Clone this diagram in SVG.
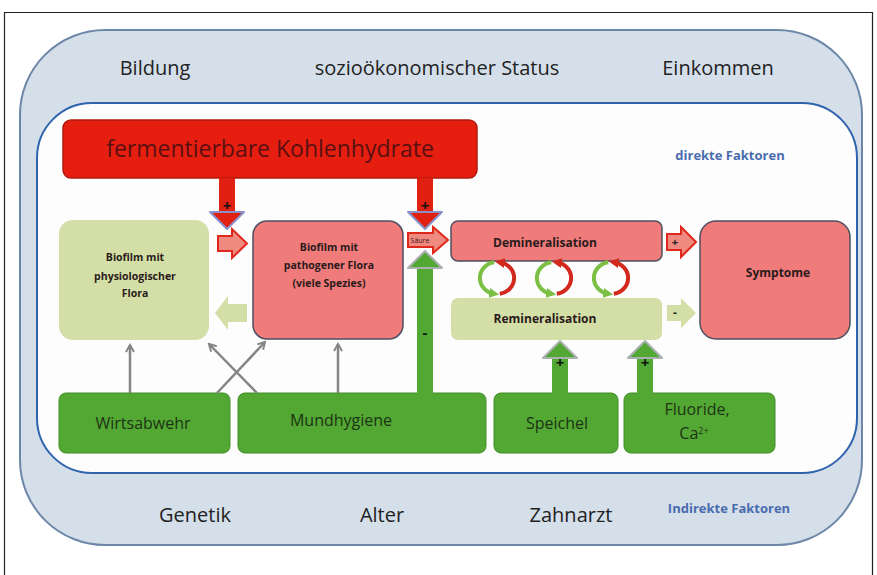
<svg xmlns="http://www.w3.org/2000/svg" width="877" height="575" viewBox="0 0 877 575">
<defs>
<style>
.t{font-family:"Open Sans","Liberation Sans",sans-serif;}
.big{font-size:20px;fill:#222;text-anchor:middle;}
.blue{font-size:13px;fill:#4a6cae;font-weight:bold;text-anchor:middle;}
.sm{font-size:10.5px;font-weight:bold;fill:#2a1a1a;text-anchor:middle;}
.md{font-size:12px;font-weight:bold;fill:#2a1a1a;text-anchor:middle;}
.gt{font-size:16px;fill:#1d3316;text-anchor:middle;}
.sign{font-size:15px;font-weight:bold;fill:#111;text-anchor:middle;}
.pink{fill:#ef7b7b;stroke:#4f4f5f;stroke-width:1.5;}
.lg{fill:#d3dfa6;}
.dg{fill:#52a832;stroke:#3f8c27;stroke-width:1;}
.harrow{fill:#ef8a80;stroke:#e0281a;stroke-width:2;}
.gray{stroke:#858585;stroke-width:2.5;fill:none;marker-end:url(#gh);}
.garc{stroke:#7cbf45;stroke-width:4;fill:none;marker-end:url(#gah);}
.rarc{stroke:#d3281e;stroke-width:4;fill:none;marker-end:url(#rah);}
</style>
<marker id="gh" viewBox="0 0 10 10" refX="8" refY="5" markerWidth="10" markerHeight="10" markerUnits="userSpaceOnUse" orient="auto">
<path d="M1,1 L8,5 L1,9" fill="none" stroke="#858585" stroke-width="2"/>
</marker>
<marker id="gah" viewBox="0 0 10 10" refX="5" refY="5" markerWidth="10" markerHeight="10" markerUnits="userSpaceOnUse" orient="auto">
<path d="M0,0 L10,5 L0,10 Z" fill="#7cbf45"/>
</marker>
<marker id="rah" viewBox="0 0 10 10" refX="5" refY="5" markerWidth="10" markerHeight="10" markerUnits="userSpaceOnUse" orient="auto">
<path d="M0,0 L10,5 L0,10 Z" fill="#d3281e"/>
</marker>
</defs>
<rect width="877" height="575" fill="#ffffff"/>
<path d="M4.5,580 L4.5,12.5 L872.5,12.5 L872.5,580" fill="none" stroke="#222" stroke-width="1.2"/>

<g id="outer">
<rect x="20" y="30" width="842" height="515" rx="85" ry="85" fill="#d4dfea" stroke="#6c87a8" stroke-width="2"/>
<text class="t big" x="155" y="75">Bildung</text>
<text class="t big" x="437" y="75">sozioökonomischer Status</text>
<text class="t big" x="718" y="75">Einkommen</text>
<text class="t big" x="195" y="522">Genetik</text>
<text class="t big" x="382" y="522">Alter</text>
<text class="t big" x="571" y="522">Zahnarzt</text>
<text class="t blue" x="729" y="513" font-size="12.5">Indirekte Faktoren</text>
</g>

<g id="inner">
<rect x="37" y="103" width="820" height="370" rx="55" ry="55" fill="#fdfdfd" stroke="#2f64ad" stroke-width="2"/>
<text class="t blue" x="730" y="160">direkte Faktoren</text>
</g>

<g id="kohlenhydrate">
<rect x="63" y="120" width="414" height="58" rx="8" fill="#e61e10" stroke="#b01a10" stroke-width="1.5"/>
<text class="t" x="270" y="157" font-size="23" fill="#5a1010" text-anchor="middle">fermentierbare Kohlenhydrate</text>
</g>

<g id="biofilm-physio">
<rect x="59" y="220" width="150" height="120" rx="14" class="lg"/>
<text class="t sm" x="135" y="261">Biofilm mit</text>
<text class="t sm" x="135" y="280">physiologischer</text>
<text class="t sm" x="135" y="297">Flora</text>
</g>

<g id="biofilm-patho">
<rect x="253" y="221" width="150" height="118" rx="14" class="pink"/>
<text class="t sm" x="329" y="251">Biofilm mit</text>
<text class="t sm" x="329" y="269">pathogener Flora</text>
<text class="t sm" x="329" y="287">(viele Spezies)</text>
</g>

<g id="demineralisation">
<rect x="451" y="221" width="211" height="40" rx="7" class="pink"/>
<text class="t md" x="545" y="247">Demineralisation</text>
</g>

<g id="remineralisation">
<rect x="451" y="298" width="211" height="42" rx="7" class="lg"/>
<text class="t md" x="545" y="323">Remineralisation</text>
</g>

<g id="symptome">
<rect x="700" y="221" width="150" height="118" rx="16" class="pink"/>
<text class="t md" x="778" y="277">Symptome</text>
</g>

<g id="wirtsabwehr">
<rect x="59" y="393" width="171" height="60" rx="7" class="dg"/>
<text class="t gt" x="143" y="429">Wirtsabwehr</text>
</g>
<g id="mundhygiene">
<rect x="238" y="393" width="248" height="60" rx="7" class="dg"/>
<text class="t gt" x="341" y="426">Mundhygiene</text>
</g>
<g id="speichel">
<rect x="494" y="393" width="124" height="60" rx="7" class="dg"/>
<text class="t gt" x="557" y="429">Speichel</text>
</g>
<g id="fluoride">
<rect x="624" y="393" width="151" height="60" rx="7" class="dg"/>
<text class="t gt" x="697" y="415">Fluoride,</text>
<text class="t gt" x="694" y="439" font-size="13">Ca<tspan font-size="9" dy="-5">2+</tspan></text>
</g>

<g id="connectors">
<!-- red down arrows -->
<rect x="219" y="178" width="16" height="35" fill="#e02010"/>
<polygon points="210,212 244,212 227,229" fill="#e02010" stroke="#8a90c8" stroke-width="2" stroke-linejoin="round"/>
<text class="t sign" x="227" y="211">+</text>
<rect x="417" y="178" width="16" height="35" fill="#e02010"/>
<polygon points="408,212 442,212 425,229" fill="#e02010" stroke="#8a90c8" stroke-width="2" stroke-linejoin="round"/>
<text class="t sign" x="425" y="211">+</text>

<!-- hollow arrow physio -> patho -->
<polygon class="harrow" points="218,236 232,236 232,229 247,243.5 232,258 232,251 218,251"/>
<!-- light green arrow patho -> physio -->
<polygon class="lg" points="215,313 228,296 228,304 247,304 247,322 228,322 228,330"/>

<!-- Saeure arrow -->
<polygon class="harrow" points="408,233 433,233 433,227 448,240 433,253 433,247 408,247"/>
<text class="t" x="420" y="243" font-size="7" fill="#4a1010" text-anchor="middle">Säure</text>

<!-- green up arrow Mundhygiene -> Saeure -->
<rect x="417" y="267" width="16" height="127" fill="#52a832"/>
<polygon points="408,268 442,268 425,251" fill="#52a832" stroke="#a9b0b0" stroke-width="2" stroke-linejoin="round"/>
<text class="t sign" x="425" y="338">-</text>

<!-- cycles -->
<path class="garc" d="M494.2,262.2 A17,16 0 0 0 494.2,293.8"/>
<path class="rarc" d="M499.8,293.8 A17,16 0 0 0 499.8,262.2"/>
<path class="garc" d="M551.2,262.2 A17,16 0 0 0 551.2,293.8"/>
<path class="rarc" d="M556.8,293.8 A17,16 0 0 0 556.8,262.2"/>
<path class="garc" d="M608.2,262.2 A17,16 0 0 0 608.2,293.8"/>
<path class="rarc" d="M613.8,293.8 A17,16 0 0 0 613.8,262.2"/>

<!-- to Symptome -->
<polygon class="harrow" points="667,234 681,234 681,227 696,242 681,257 681,250 667,250"/>
<text class="t" x="675" y="246" font-size="11" font-weight="bold" fill="#222" text-anchor="middle">+</text>
<polygon class="lg" points="667,305 681,305 681,298 696,313 681,328 681,321 667,321"/>
<text class="t" x="675" y="317" font-size="12" font-weight="bold" fill="#222" text-anchor="middle">-</text>

<!-- green up arrows to Remineralisation -->
<rect x="552" y="357" width="16" height="37" fill="#52a832"/>
<polygon points="543,358 577,358 560,341" fill="#52a832" stroke="#a9b0b0" stroke-width="2" stroke-linejoin="round"/>
<text class="t sign" x="560" y="368">+</text>
<rect x="637" y="357" width="16" height="37" fill="#52a832"/>
<polygon points="628,358 662,358 645,341" fill="#52a832" stroke="#a9b0b0" stroke-width="2" stroke-linejoin="round"/>
<text class="t sign" x="645" y="368">+</text>

<!-- gray arrows -->
<line class="gray" x1="130" y1="393" x2="130" y2="345"/>
<line class="gray" x1="257" y1="393" x2="209" y2="344"/>
<line class="gray" x1="217" y1="393" x2="265" y2="342"/>
<line class="gray" x1="338" y1="393" x2="338" y2="344"/>
</g>
</svg>
